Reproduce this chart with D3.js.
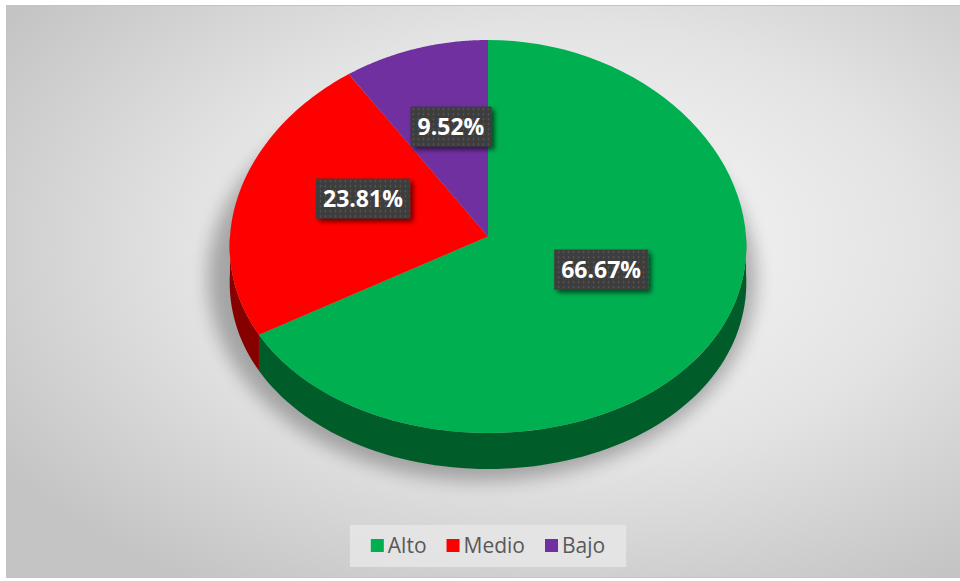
<!DOCTYPE html>
<html>
<head>
<meta charset="utf-8">
<script src="https://cdn.jsdelivr.net/npm/d3@7"></script>
<style>
  body { margin: 0; background: #fff; }
  svg { display: block; }
</style>
</head>
<body>
<script>
// chart data
var categories = ['Alto', 'Medio', 'Bajo'];
var values = [66.67, 23.81, 9.52];
var labels = ['66.67%', '23.81%', '9.52%'];
var colors = ['#00b050', '#ff0000', '#7030a0'];

var width = 960,
	height = 581;

// the 3d pie is an ellipse with a side band
// k gives a little perspective (front wider than back)
var cx = 488, cy = 236.5,
	rx = 258, ry = 196.5,
	depth = 36,
	k = 0.05;

var svg = d3.select('body')
	.append('svg')
	.attr('width', width)
	.attr('height', height);

var defs = svg.append('defs');

var bg = defs.append('radialGradient')
	.attr('id', 'bg')
	.attr('cx', '58%').attr('cy', '42%').attr('r', '70%');
bg.append('stop').attr('offset', '0%').attr('stop-color', '#f9f9f9');
bg.append('stop').attr('offset', '55%').attr('stop-color', '#e3e3e3');
bg.append('stop').attr('offset', '100%').attr('stop-color', '#c4c4c4');

defs.append('filter').attr('id', 'blur')
	.attr('x', '-30%').attr('y', '-30%').attr('width', '160%').attr('height', '160%')
	.append('feGaussianBlur').attr('stdDeviation', 9);

var ds = defs.append('filter').attr('id', 'lblshadow')
	.attr('x', '-20%').attr('y', '-30%').attr('width', '150%').attr('height', '180%');
ds.append('feGaussianBlur').attr('in', 'SourceAlpha').attr('stdDeviation', 2.5).attr('result', 'b');
ds.append('feOffset').attr('in', 'b').attr('dx', 3).attr('dy', 3).attr('result', 'o');
ds.append('feComponentTransfer').attr('in', 'o').attr('result', 'o2')
	.append('feFuncA').attr('type', 'linear').attr('slope', 0.6);
var mg = ds.append('feMerge');
mg.append('feMergeNode').attr('in', 'o2');
mg.append('feMergeNode').attr('in', 'SourceGraphic');

// dotted fill used by Excel label boxes
var pat = defs.append('pattern')
	.attr('id', 'dots')
	.attr('width', 5).attr('height', 5)
	.attr('patternUnits', 'userSpaceOnUse');
pat.append('rect').attr('width', 5).attr('height', 5).attr('fill', '#3c3c3c');
pat.append('circle').attr('cx', 2.5).attr('cy', 2.5).attr('r', 0.9).attr('fill', '#5e5e5e');

// chart area
svg.append('rect')
	.attr('x', 6.5).attr('y', 5.5)
	.attr('width', width - 6).attr('height', height - 9)
	.attr('fill', 'url(#bg)')
	.attr('stroke', '#c4c4c4');

// soft shadow under the pie
svg.append('ellipse')
	.attr('cx', cx - 6).attr('cy', cy + depth + 6)
	.attr('rx', rx + 16).attr('ry', ry + 6)
	.attr('fill', '#000')
	.attr('opacity', 0.28)
	.attr('filter', 'url(#blur)');

var pie = d3.pie().sort(null).value(function(d) { return d; });
var arcs = pie(values);

function px(a, f) { return cx + f * rx * Math.sin(a) * (1 - k * f * Math.cos(a)); }
function py(a, f) { return cy - f * ry * Math.cos(a); }

// top face of a slice along the ellipse
function topPath(d) {
	var n = 80, pts = [[cx, cy]];
	for (var i = 0; i <= n; i++) {
		var a = d.startAngle + (d.endAngle - d.startAngle) * i / n;
		pts.push([px(a, 1), py(a, 1)]);
	}
	return 'M' + pts.join('L') + 'Z';
}

// side band, only where it faces the viewer
function sidePath(d) {
	var a0 = Math.max(d.startAngle, Math.PI / 2),
		a1 = Math.min(d.endAngle, 3 * Math.PI / 2);
	if (a1 <= a0) return null;
	var n = 80, top = [], bot = [];
	for (var i = 0; i <= n; i++) {
		var a = a0 + (a1 - a0) * i / n;
		top.push([px(a, 1), py(a, 1)]);
		bot.unshift([px(a, 1), py(a, 1) + depth]);
	}
	return 'M' + top.concat(bot).join('L') + 'Z';
}

var g = svg.append('g');

g.selectAll('path.side')
	.data(arcs.filter(function(d) { return sidePath(d); }))
	.enter().append('path')
	.attr('class', 'side')
	.attr('d', sidePath)
	.attr('fill', function(d) { return d3.color(colors[d.index]).darker(1.8); });

g.selectAll('path.top')
	.data(arcs)
	.enter().append('path')
	.attr('class', 'top')
	.attr('d', topPath)
	.attr('fill', function(d) { return colors[d.index]; });

// data labels
var lbl = svg.selectAll('g.lbl')
	.data(arcs)
	.enter().append('g')
	.attr('class', 'lbl')
	.attr('transform', function(d) {
		var m = (d.startAngle + d.endAngle) / 2;
		return 'translate(' + px(m, 0.5) + ',' + (py(m, 0.5) - 16) + ')';
	});

lbl.append('rect')
	.attr('fill', 'url(#dots)')
	.attr('filter', 'url(#lblshadow)');

lbl.append('text')
	.attr('text-anchor', 'middle')
	.attr('dy', '0.36em')
	.attr('fill', '#fff')
	.style('font-family', '"Open Sans", sans-serif')
	.style('font-weight', 'bold')
	.style('font-size', '23px')
	.text(function(d) { return labels[d.index]; });

lbl.each(function() {
	var t = d3.select(this).select('text').node().getBBox();
	d3.select(this).select('rect')
		.attr('x', t.x - 7).attr('y', -20)
		.attr('width', t.width + 14).attr('height', 40);
});

// legend
var legend = svg.append('g');
var lbox = legend.append('rect')
	.attr('fill', '#e6e6e6')
	.attr('opacity', 0.85);

var items = legend.selectAll('g.item')
	.data(categories)
	.enter().append('g')
	.attr('class', 'item');

items.append('rect')
	.attr('width', 13).attr('height', 13)
	.attr('y', -7)
	.attr('fill', function(d, i) { return colors[i]; });

items.append('text')
	.attr('x', 17)
	.attr('dy', '0.35em')
	.attr('fill', '#595959')
	.style('font-family', '"Open Sans", sans-serif')
	.style('font-size', '21px')
	.text(function(d) { return d; });

var xoff = 0, offs = [];
items.each(function() {
	offs.push(xoff);
	xoff += this.getBBox().width + 20;
});
var legW = xoff - 20;
var lx = 488 - legW / 2, ly = 546;
items.attr('transform', function(d, i) {
	return 'translate(' + (lx + offs[i]) + ',' + ly + ')';
});
lbox.attr('x', lx - 21).attr('y', ly - 21)
	.attr('width', legW + 42).attr('height', 42);
</script>
</body>
</html>
